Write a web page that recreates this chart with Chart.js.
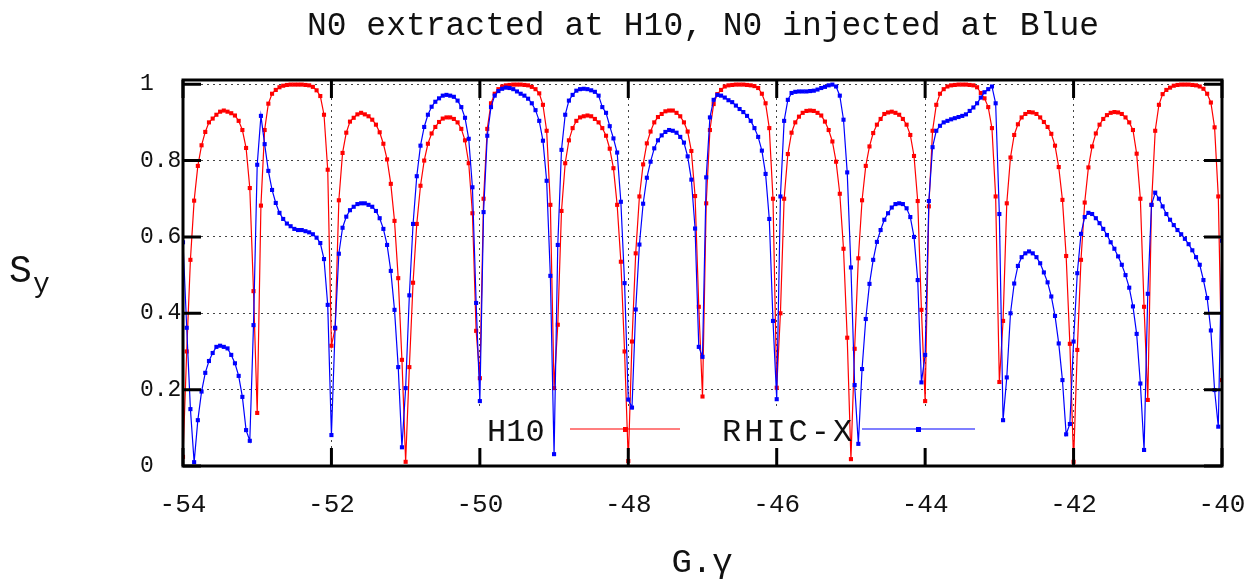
<!DOCTYPE html>
<html>
<head>
<meta charset="utf-8">
<script src="https://cdn.jsdelivr.net/npm/chart.js@4/dist/chart.umd.min.js"></script>
<style>
  html, body { margin: 0; padding: 0; background: #fff; }
  #wrap { width: 1249px; height: 582px; }
</style>
</head>
<body>
<div id="wrap"><canvas id="chart" width="1249" height="582"></canvas></div>
<script>
// sampling of G.gamma: -54 .. -40, every 0.05
const X_START = -54;
const X_STEP = 0.05;

// H10 (red), one row per unit of G.gamma
const H10 = [
  0.024,0.30,0.54,0.695,0.786,0.84,0.875,0.90,0.91,0.92, 0.928,0.931,0.928,0.924,0.918,0.904,0.88,0.833,0.728,0.458,
  0.139,0.682,0.88,0.949,0.975,0.985,0.992,0.996,0.998,0.999, 0.999,0.999,0.999,0.998,0.997,0.993,0.984,0.969,0.92,0.776,
  0.315,0.36,0.696,0.82,0.873,0.902,0.912,0.921,0.925,0.921, 0.916,0.907,0.894,0.874,0.844,0.803,0.739,0.642,0.492,0.278,
  0.011,0.259,0.48,0.634,0.734,0.80,0.844,0.871,0.888,0.901, 0.91,0.913,0.913,0.909,0.90,0.883,0.853,0.793,0.662,0.354,
  0.23,0.70,0.883,0.95,0.975,0.987,0.994,0.997,0.998,0.999, 0.999,0.999,0.998,0.997,0.993,0.987,0.976,0.946,0.878,0.684,
  0.204,0.37,0.668,0.793,0.853,0.885,0.904,0.913,0.916,0.918, 0.916,0.909,0.90,0.885,0.865,0.831,0.78,0.684,0.535,0.30,
  0.013,0.326,0.557,0.706,0.79,0.845,0.876,0.90,0.914,0.922, 0.929,0.931,0.931,0.925,0.916,0.90,0.876,0.825,0.707,0.417,
  0.182,0.688,0.88,0.948,0.974,0.985,0.994,0.997,0.998,0.999, 0.999,0.999,0.998,0.997,0.995,0.99,0.975,0.95,0.885,0.70,
  0.205,0.40,0.70,0.817,0.873,0.90,0.915,0.925,0.93,0.931, 0.93,0.925,0.918,0.902,0.88,0.85,0.797,0.713,0.569,0.336,
  0.018,0.307,0.544,0.696,0.786,0.837,0.872,0.894,0.909,0.922, 0.926,0.928,0.925,0.92,0.909,0.894,0.867,0.812,0.694,0.409,
  0.17,0.68,0.878,0.946,0.975,0.987,0.994,0.997,0.998,0.999, 0.999,0.999,0.998,0.997,0.992,0.977,0.963,0.94,0.885,0.706,
  0.22,0.38,0.688,0.808,0.867,0.895,0.913,0.922,0.927,0.926, 0.922,0.913,0.901,0.888,0.87,0.839,0.783,0.697,0.55,0.32,
  0.011,0.304,0.54,0.69,0.782,0.837,0.871,0.894,0.909,0.919, 0.925,0.927,0.926,0.922,0.913,0.90,0.88,0.818,0.70,0.417,
  0.173,0.684,0.878,0.946,0.974,0.985,0.991,0.996,0.998,0.999, 0.999,0.999,0.998,0.997,0.994,0.988,0.975,0.952,0.887,0.706,
  0.225
];

// RHIC-X (blue)
const RHIC_X = [
  0.586,0.362,0.149,0.01,0.12,0.195,0.244,0.275,0.296,0.312, 0.315,0.312,0.308,0.291,0.269,0.236,0.181,0.094,0.066,0.369,
  0.789,0.917,0.843,0.773,0.723,0.689,0.663,0.647,0.635,0.628, 0.621,0.618,0.618,0.615,0.612,0.607,0.598,0.584,0.542,0.422,
  0.081,0.362,0.556,0.624,0.653,0.67,0.679,0.686,0.688,0.688, 0.684,0.679,0.668,0.649,0.621,0.579,0.511,0.409,0.259,0.049,
  0.204,0.447,0.634,0.759,0.839,0.888,0.92,0.941,0.954,0.963, 0.97,0.972,0.97,0.967,0.957,0.94,0.912,0.857,0.73,0.427,
  0.17,0.665,0.865,0.94,0.97,0.982,0.988,0.991,0.99,0.987, 0.981,0.975,0.97,0.962,0.95,0.932,0.904,0.852,0.747,0.498,
  0.031,0.579,0.828,0.92,0.957,0.972,0.983,0.987,0.988,0.987, 0.984,0.98,0.97,0.94,0.925,0.89,0.858,0.821,0.692,0.479,
  0.174,0.153,0.41,0.58,0.687,0.755,0.797,0.832,0.853,0.866, 0.875,0.88,0.878,0.873,0.862,0.847,0.811,0.75,0.622,0.312,
  0.286,0.756,0.913,0.959,0.972,0.97,0.965,0.958,0.953,0.944, 0.935,0.927,0.917,0.904,0.885,0.862,0.826,0.765,0.647,0.38,
  0.175,0.706,0.904,0.959,0.977,0.98,0.981,0.981,0.981,0.982, 0.983,0.986,0.99,0.993,0.997,0.999,0.994,0.97,0.907,0.769,
  0.52,0.212,0.058,0.254,0.385,0.477,0.54,0.587,0.618,0.645, 0.662,0.677,0.686,0.688,0.686,0.675,0.652,0.60,0.487,0.219,
  0.291,0.694,0.835,0.878,0.891,0.90,0.904,0.908,0.911,0.914, 0.917,0.921,0.93,0.939,0.95,0.965,0.979,0.987,0.994,0.95,
  0.66,0.12,0.232,0.40,0.478,0.524,0.547,0.557,0.562,0.557, 0.547,0.531,0.507,0.481,0.444,0.393,0.321,0.225,0.083,0.11,
  0.326,0.505,0.608,0.652,0.663,0.66,0.649,0.636,0.621,0.605, 0.586,0.569,0.549,0.527,0.50,0.467,0.418,0.346,0.216,0.042,
  0.451,0.684,0.716,0.70,0.68,0.66,0.645,0.631,0.618,0.607, 0.595,0.581,0.565,0.547,0.527,0.487,0.44,0.355,0.199,0.103,
  0.59
];

const X_TICKS = [-54, -52, -50, -48, -46, -44, -42, -40];
const Y_TICKS = [0, 0.2, 0.4, 0.6, 0.8, 1];

const TITLE = "N0 extracted at H10, N0 injected at Blue";
const X_TITLE = "G.\u03b3";
const LABEL_H10 = "H10";
const LABEL_RHIC = "RHIC-X";

const MONO = '"Liberation Mono", "DejaVu Sans Mono", monospace';

function toPoints(values) {
  return values.map((v, i) => ({ x: X_START + i * X_STEP, y: v }));
}

// gnuplot look: thick frame, inward ticks, opaque key box, free text
const gnuplotBits = {
  id: 'gnuplotBits',
  beforeDatasetsDraw(chart) {
    const ctx = chart.ctx;
    ctx.save();
    ctx.fillStyle = '#fff';
    ctx.fillRect(474, 410, 514, 42);
    ctx.restore();
  },
  afterDatasetsDraw(chart) {
    const ctx = chart.ctx;
    const a = chart.chartArea;
    const xs = chart.scales.x, ys = chart.scales.y;
    ctx.save();

    // key
    ctx.font = '32px ' + MONO;
    ctx.fillStyle = '#111';
    ctx.textBaseline = 'middle';
    ctx.textAlign = 'left';
    ctx.fillText(LABEL_H10, 487, 433);
    ctx.save();
    ctx.letterSpacing = '3px';
    ctx.fillText(LABEL_RHIC, 722, 433);
    ctx.restore();
    ctx.lineWidth = 1.2;
    ctx.strokeStyle = 'rgb(255,0,0)';
    ctx.beginPath(); ctx.moveTo(570, 429); ctx.lineTo(680, 429); ctx.stroke();
    ctx.fillStyle = 'rgb(255,0,0)';
    ctx.fillRect(623, 427, 5, 5);
    ctx.strokeStyle = 'rgb(0,0,255)';
    ctx.beginPath(); ctx.moveTo(862, 429); ctx.lineTo(975, 429); ctx.stroke();
    ctx.fillStyle = 'rgb(0,0,255)';
    ctx.fillRect(916, 427, 5, 5);

    // frame
    ctx.strokeStyle = '#000';
    ctx.lineWidth = 3;
    ctx.strokeRect(a.left, a.top, a.right - a.left, a.bottom - a.top);

    // inward major ticks
    const tl = 18;
    ctx.beginPath();
    X_TICKS.forEach(t => {
      const px = xs.getPixelForValue(t);
      ctx.moveTo(px, a.bottom); ctx.lineTo(px, a.bottom - tl);
      ctx.moveTo(px, a.top); ctx.lineTo(px, a.top + tl);
    });
    Y_TICKS.forEach(t => {
      const py = ys.getPixelForValue(t);
      ctx.moveTo(a.left, py); ctx.lineTo(a.left + tl, py);
      ctx.moveTo(a.right, py); ctx.lineTo(a.right - tl, py);
    });
    ctx.stroke();
    ctx.restore();
  },
  afterDraw(chart) {
    const ctx = chart.ctx;
    ctx.save();
    ctx.fillStyle = '#111';
    ctx.textAlign = 'center';
    ctx.textBaseline = 'middle';
    ctx.font = '33px ' + MONO;
    ctx.fillText(TITLE, 703, 26);
    ctx.font = '34px ' + MONO;
    ctx.fillText(X_TITLE, 702, 563);
    // S_y
    ctx.textAlign = 'left';
    ctx.font = '38px ' + MONO;
    ctx.fillText('S', 9, 272);
    ctx.font = '28px ' + MONO;
    ctx.fillText('y', 33, 285);
    ctx.restore();
  }
};

const ctx = document.getElementById('chart');
new Chart(ctx, {
  type: 'line',
  data: {
    datasets: [
      {
        label: LABEL_RHIC,
        data: toPoints(RHIC_X),
        borderColor: 'rgb(0,0,255)',
        backgroundColor: 'rgb(0,0,255)',
        borderWidth: 1.2,
        pointStyle: 'rect',
        pointRadius: 2.9,
        pointBorderWidth: 0,
        tension: 0,
        fill: false
      },
      {
        label: LABEL_H10,
        data: toPoints(H10),
        borderColor: 'rgb(255,0,0)',
        backgroundColor: 'rgb(255,0,0)',
        borderWidth: 1.2,
        pointStyle: 'rect',
        pointRadius: 2.9,
        pointBorderWidth: 0,
        tension: 0,
        fill: false
      }
    ]
  },
  options: {
    responsive: false,
    animation: false,
    layout: { autoPadding: false, padding: { top: 80, right: 27, left: 140, bottom: 0 } },
    plugins: {
      legend: { display: false },
      title: { display: false },
      tooltip: { enabled: false }
    },
    scales: {
      x: {
        type: 'linear',
        min: -54,
        max: -40,
        afterBuildTicks: s => { s.ticks = X_TICKS.map(v => ({ value: v })); },
        afterFit: s => { s.height = 116; s.paddingLeft = 0; s.paddingRight = 0; },
        ticks: {
          font: { family: MONO, size: 26 },
          color: '#111',
          padding: 24,
          maxRotation: 0,
          callback: v => String(v)
        },
        grid: { color: '#444', lineWidth: 1, drawTicks: false },
        border: { display: false, dash: [2, 4] }
      },
      y: {
        type: 'linear',
        min: 0,
        max: 1.011,
        afterBuildTicks: s => { s.ticks = Y_TICKS.map(v => ({ value: v })); },
        afterFit: s => { s.width = 43; s.paddingTop = 0; s.paddingBottom = 0; },
        ticks: {
          font: { family: MONO, size: 23 },
          color: '#111',
          crossAlign: 'far',
          callback: v => String(Math.round(v * 10) / 10)
        },
        grid: { color: '#444', lineWidth: 1, drawTicks: false },
        border: { display: false, dash: [2, 4] }
      }
    }
  },
  plugins: [gnuplotBits]
});
</script>
</body>
</html>
